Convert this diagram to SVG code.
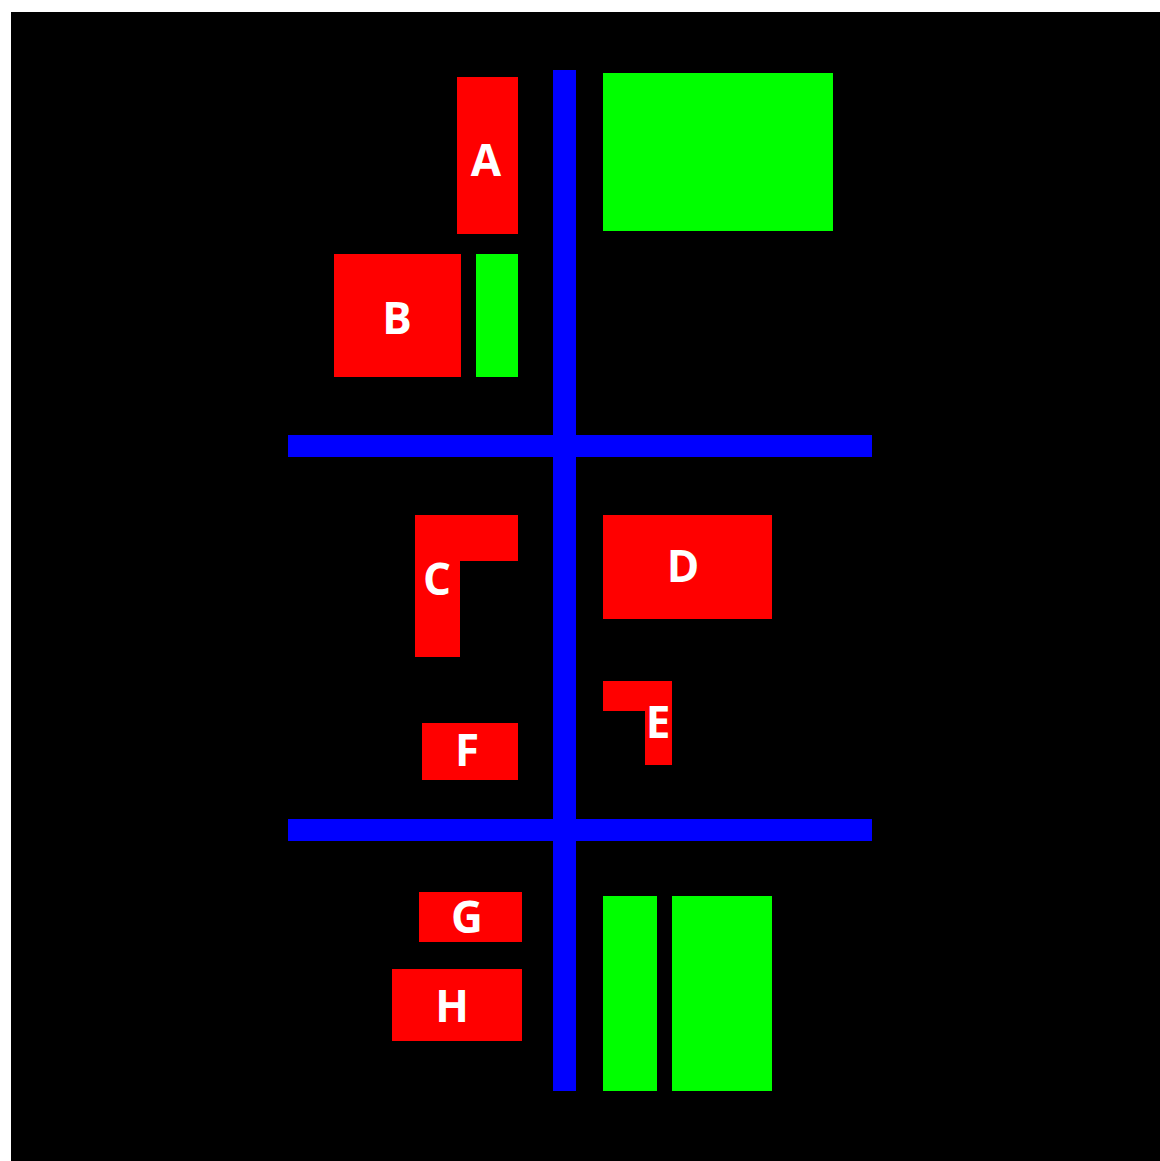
<svg xmlns="http://www.w3.org/2000/svg" width="1160" height="1161" viewBox="0 0 1160 1161">
<style>
.red{fill:#ff0000}
.green{fill:#00ff00}
.blue{fill:#0000ff}
.lbl{font-family:"Open Sans","Liberation Sans",sans-serif;font-weight:bold;font-size:44px;fill:#ffffff;text-anchor:middle}
</style>
<rect x="0" y="0" width="1160" height="1161" fill="#ffffff"/>
<rect x="11" y="12" width="1149" height="1149" fill="#000000"/>
<g id="roads">
<rect class="blue" x="553" y="70" width="23" height="1021"/>
<rect class="blue" x="288" y="435" width="584" height="22"/>
<rect class="blue" x="288" y="819" width="584" height="22"/>
</g>
<g id="green-areas">
<rect class="green" x="603" y="73" width="230" height="158"/>
<rect class="green" x="476" y="254" width="42" height="123"/>
<rect class="green" x="603" y="896" width="54" height="195"/>
<rect class="green" x="672" y="896" width="100" height="195"/>
</g>
<g id="A"><rect class="red" x="457" y="77" width="61" height="157"/><text class="lbl" x="486" y="176">A</text></g>
<g id="B"><rect class="red" x="334" y="254" width="127" height="123"/><text class="lbl" x="397" y="334">B</text></g>
<g id="C"><path class="red" d="M415 515H518V561H460V657H415Z"/><text class="lbl" x="437" y="595">C</text></g>
<g id="D"><rect class="red" x="603" y="515" width="169" height="104"/><text class="lbl" x="683" y="582">D</text></g>
<g id="E"><path class="red" d="M603 681H672V765H645V711H603Z"/><text class="lbl" x="658" y="738">E</text></g>
<g id="F"><rect class="red" x="422" y="723" width="96" height="57"/><text class="lbl" x="467" y="766">F</text></g>
<g id="G"><rect class="red" x="419" y="892" width="103" height="50"/><text class="lbl" x="467" y="933">G</text></g>
<g id="H"><rect class="red" x="392" y="969" width="130" height="72"/><text class="lbl" x="452" y="1022">H</text></g>
</svg>
